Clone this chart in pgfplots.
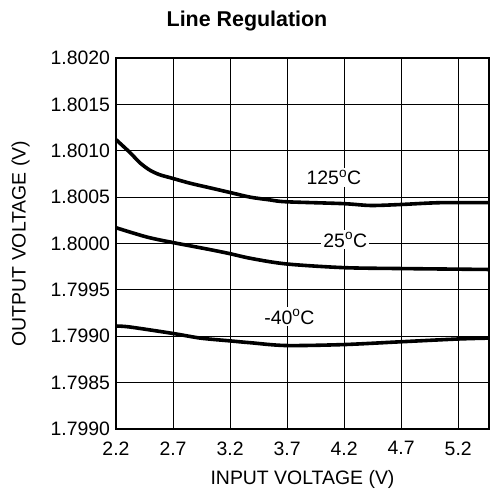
\documentclass[border=0pt]{standalone}
\usepackage{fontspec}
\setmainfont{Liberation Sans}
\usepackage{pgfplots}
\pgfplotsset{compat=1.18}
\begin{document}
\begin{tikzpicture}[x=1bp,y=1bp]
\begin{axis}[
  at={(0,0)}, anchor=south west,
  scale only axis, width=373bp, height=371bp,
  xmin=2.2, xmax=5.47, ymin=1.7980, ymax=1.8020,
  xtick={2.2,2.7,3.2,3.7,4.2,4.7,5.2},
  xticklabels={2.2,2.7,3.2,3.7,4.2,4.7,5.2},
  ytick={1.7980,1.7985,1.7990,1.7995,1.8000,1.8005,1.8010,1.8015,1.8020},
  yticklabels={1.7990,1.7985,1.7990,1.7995,1.8000,1.8005,1.8010,1.8015,1.8020},
  scaled y ticks=false,
  major tick length=0pt,
  grid=major,
  major grid style={black, line width=1bp},
  axis line style={black, line width=2bp},
  tick label style={font=\fontsize{19.5}{23}\selectfont},
  yticklabel style={xshift=-2.5bp},
  xticklabel style={yshift=-9bp},
  label style={font=\fontsize{19.5}{23}\selectfont},
  xlabel={INPUT VOLTAGE (V)},
  ylabel={OUTPUT VOLTAGE (V)},
  xlabel style={yshift=-8bp},
  ylabel style={yshift=14bp},
  clip=false,
]
\addplot[black, line width=3.6bp, smooth, tension=0.5] coordinates {
 (2.200,1.80112) (2.323,1.80098) (2.410,1.80087) (2.498,1.80079) (2.586,1.80074)
 (2.674,1.80071) (2.849,1.80065)
 (3.025,1.80060) (3.200,1.80055) (3.375,1.80050) (3.550,1.80047) (3.690,1.80045)
 (4.190,1.80043) (4.430,1.80041) (4.690,1.80042) (5.040,1.80044) (5.470,1.80044)};
\addplot[black, line width=3.6bp, smooth, tension=0.5] coordinates {
 (2.20,1.80017) (2.47,1.80007) (2.70,1.80001) (3.00,1.79994) (3.20,1.79989)
 (3.38,1.79984) (3.69,1.79978) (4.19,1.79974) (4.69,1.79973) (5.47,1.79972)};
\addplot[black, line width=3.6bp, smooth, tension=0.5] coordinates {
 (2.20,1.79911) (2.32,1.79910) (2.70,1.79903) (2.94,1.79898) (3.20,1.79895)
 (3.38,1.79893) (3.69,1.79890) (4.19,1.79891) (4.69,1.79894) (5.19,1.79897)
 (5.47,1.79898)};
\node[fill=white, inner sep=2bp, font=\fontsize{19.5}{23}\selectfont] at (axis cs:4.11,1.80071) {125\textsuperscript{o}C};
\node[fill=white, inner sep=2bp, font=\fontsize{19.5}{23}\selectfont] at (axis cs:4.21,1.80004) {25\textsuperscript{o}C};
\node[fill=white, inner sep=2bp, font=\fontsize{19.5}{23}\selectfont] at (axis cs:3.72,1.79921) {-40\textsuperscript{o}C};
\end{axis}
\node[font=\fontsize{21.5}{25}\selectfont\bfseries] at (131bp,408bp) {Line Regulation};
\pgfresetboundingbox
\path[use as bounding box] (-116bp,-61bp) rectangle (374bp,429bp);
\end{tikzpicture}
\end{document}
